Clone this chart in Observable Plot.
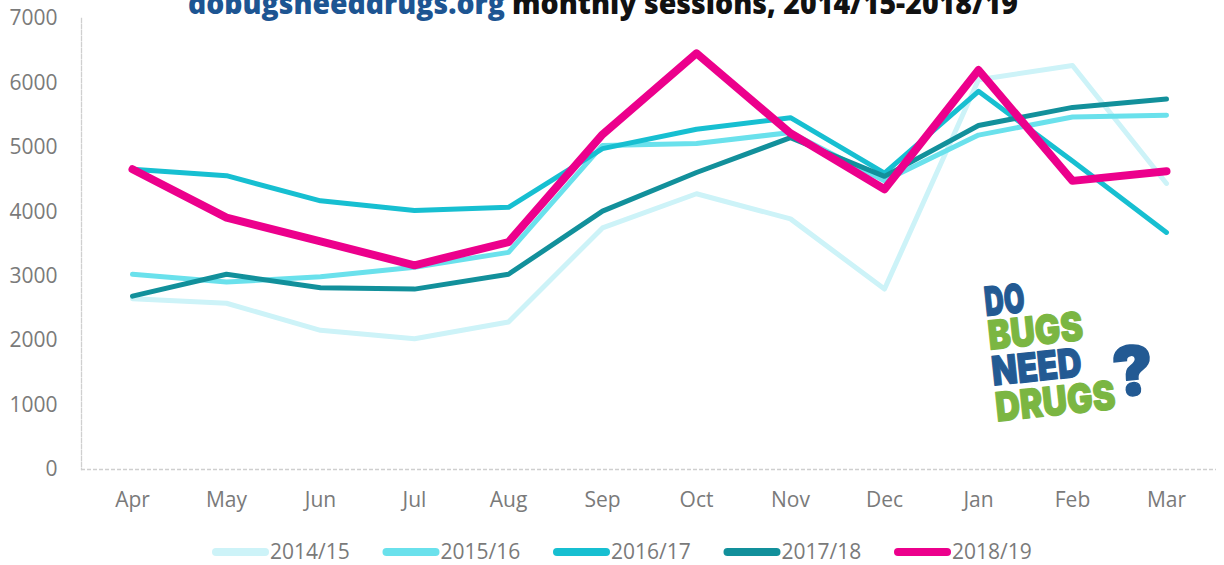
<!DOCTYPE html>
<html><head><meta charset="utf-8">
<script src="https://cdn.jsdelivr.net/npm/d3@7"></script>
<script src="https://cdn.jsdelivr.net/npm/@observablehq/plot@0.6"></script>
<style>
html,body{margin:0;padding:0;background:#fff}
body{width:1224px;height:565px;overflow:hidden;position:relative;font-family:"Open Sans",sans-serif}
#chart{position:absolute;left:0;top:0}
#legend{position:absolute;left:0;top:530px}
#overlay{position:absolute;left:0;top:0;pointer-events:none}
</style></head><body>
<div id="chart"></div>
<svg id="legend" width="1224" height="35"></svg>
<svg id="overlay" width="1224" height="565"></svg>
<script>
const months = ["Apr","May","Jun","Jul","Aug","Sep","Oct","Nov","Dec","Jan","Feb","Mar"];
const seriesNames = ["2014/15","2015/16","2016/17","2017/18","2018/19"];
const s201415 = [2650, 2580, 2160, 2030, 2290, 3750, 4280, 3890, 2800, 6050, 6270, 4440];
const s201516 = [3030, 2910, 2990, 3140, 3370, 5030, 5060, 5230, 4480, 5190, 5470, 5500];
const s201617 = [4660, 4560, 4170, 4020, 4070, 4980, 5280, 5460, 4600, 5870, 4790, 3680];
const s201718 = [2690, 3030, 2820, 2800, 3030, 4010, 4610, 5150, 4550, 5340, 5620, 5750];
const s201819 = [4660, 3910, 3540, 3170, 3530, 5200, 6460, 5220, 4350, 6200, 4480, 4630];
const seriesValues = [s201415, s201516, s201617, s201718, s201819];
const seriesColors = ["#cdf3f8","#6ae1ec","#17bfd1","#12909b","#ec008c"];
const seriesWidths = [5, 5, 5, 5, 8];
const yTicks = [0,1000,2000,3000,4000,5000,6000,7000];
const titleBlue = "dobugsneeddrugs.org";
const titleBlack = "monthly sessions, 2014/15-2018/19";
const logoLines = [["DO","#235a93"],["BUGS","#7bb642"],["NEED","#235a93"],["DRUGS","#7bb642"]];

const rows = seriesNames.map((name, i) => months.map((m, j) => ({series: name, month: m, value: seriesValues[i][j]})));

const textColor = "#7a7a7a";
const chart = Plot.plot({
  width: 1224, height: 530,
  marginTop: 18, marginBottom: 61, marginLeft: 81, marginRight: 8,
  x: {type: "point", domain: months, padding: 0.5, label: null},
  y: {domain: [0, 7000], label: null},
  style: {fontFamily: "'Open Sans', sans-serif", fontSize: "21px", color: textColor, background: "transparent", overflow: "visible"},
  marks: [
    Plot.axisY({ticks: yTicks, tickSize: 0, tickPadding: 24, fontSize: 21, fill: textColor, label: null, tickFormat: d => String(d)}),
    Plot.axisX({tickSize: 0, tickPadding: 23, fontSize: 21, fill: textColor, label: null}),
    Plot.frame({anchor: "left", stroke: "#cfcfcf", strokeDasharray: "4,2", strokeWidth: 1.3}),
    Plot.ruleY([0], {stroke: "#cfcfcf", strokeDasharray: "4,2", strokeWidth: 1.3}),
    ...rows.map((r, i) => Plot.line(r, {x: "month", y: "value", stroke: seriesColors[i], strokeWidth: seriesWidths[i], strokeLinecap: "round", strokeLinejoin: "round"}))
  ]
});
document.getElementById("chart").appendChild(chart);

// legend
const lg = d3.select("#legend");
seriesNames.forEach((name, i) => {
  const x0 = 212 + i * 170.5;
  lg.append("line").attr("x1", x0 + 4).attr("x2", x0 + 53).attr("y1", 22).attr("y2", 22)
    .attr("stroke", seriesColors[i]).attr("stroke-width", 8).attr("stroke-linecap", "round");
  lg.append("text").attr("x", x0 + 58).attr("y", 22).attr("dy", "0.35em")
    .attr("font-family", "'Open Sans', sans-serif").attr("font-size", 21).attr("fill", textColor).text(name);
});

// title (cropped at top, as in the reference) and logo
const ov = d3.select("#overlay");
ov.append("text").attr("x", 188).attr("y", 14).attr("font-family", "'Open Sans', sans-serif")
  .attr("font-weight", 800).attr("font-size", 30).attr("fill", "#1d5592")
  .attr("textLength", 317).attr("lengthAdjust", "spacingAndGlyphs").text(titleBlue);
ov.append("text").attr("x", 512).attr("y", 14).attr("font-family", "'Open Sans', sans-serif")
  .attr("font-weight", 800).attr("font-size", 30).attr("fill", "#111111")
  .attr("textLength", 506).attr("lengthAdjust", "spacingAndGlyphs").text(titleBlack);

const logo = ov.append("g").attr("transform", "translate(986,316) rotate(-6)");
const lineH = [0, 34, 70, 106];
const lineW = [40, 95, 90, 120];
logoLines.forEach(([t, c], i) => {
  logo.append("text").attr("x", 0).attr("y", lineH[i])
    .attr("font-family", "Inter, 'DejaVu Sans', sans-serif").attr("font-weight", 900).attr("font-size", 40)
    .attr("fill", c).attr("stroke", c).attr("stroke-width", 1.2).attr("stroke-linejoin", "round")
    .attr("textLength", lineW[i]).attr("lengthAdjust", "spacingAndGlyphs").text(t);
});
logo.append("text").attr("x", 120).attr("y", 94)
  .attr("font-family", "Inter, 'DejaVu Sans', sans-serif").attr("font-weight", 900).attr("font-size", 68)
  .attr("fill", "#235a93").attr("stroke", "#235a93").attr("stroke-width", 1.5).text("?");
</script>
</body></html>
